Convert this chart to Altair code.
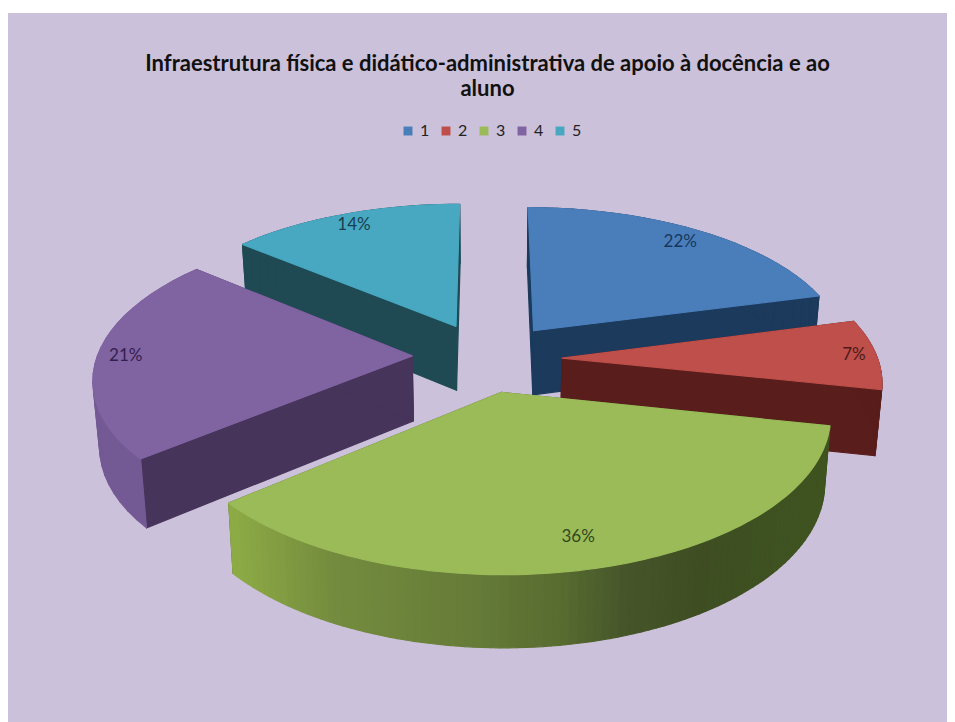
import math
import altair as alt

# Values
categories = ["1", "2", "3", "4", "5"]
labels = ["22%", "7%", "36%", "21%", "14%"]
shares = [22, 7, 36, 21, 14]
# apparent sweep of each slice in the tilted picture, degrees
sweeps = [75, 27, 128, 80, 50]
top_colors = ["#4A7EBB", "#BE4F4B", "#9BBB59", "#8064A2", "#48A8C2"]
cut_colors = ["#1B3A5C", "#591E1C", "#4F6428", "#47345A", "#1F4A54"]
rim_colors = ["#1B3A5C", "#591E1C", "#4F6428", "#745A94", "#1F4A54"]
label_colors = ["#17375E", "#4F1B19", "#33471C", "#33204F", "#173F4F"]
green_stops = [(232, "#8DAB45"), (330, "#748C3E"), (470, "#667C38"), (560, "#586C30"),
               (625, "#46562A"), (700, "#3E4E22"), (830, "#3F5420")]
title_lines = ["Infraestrutura física e didático-administrativa de apoio à docência e ao", "aluno"]
BG = "#CCC1DA"

# 3D pie projection
CX, CY, S, KS, Q, EXPLODE = 487, 357, 315, 146.6, 0.137, 0.238
LABEL_R = [0.88, 0.93, 0.84, 0.91, 0.90]
PAD_TOP = 5
W, H = 939, 714


def project(x, y):
    w = 1 - Q * y
    return CX + S * x / w, CY + KS * y / w, w


def top_pt(th, mid, r=1.0):
    x = EXPLODE * math.sin(mid) + r * math.sin(th)
    y = -EXPLODE * math.cos(mid) - r * math.cos(th)
    return project(x, y)[:2]


def apex(mid):
    return project(EXPLODE * math.sin(mid), -EXPLODE * math.cos(mid))[:2]


def bottom(px, py):
    w = 1 - Q * ((py - CY) / KS) / (1 + Q * (py - CY) / KS)
    return CX + (px - CX) * 0.983, py + 25 + 40 / w


def hex_mix(a, b, t):
    ca = [int(a[i:i + 2], 16) for i in (1, 3, 5)]
    cb = [int(b[i:i + 2], 16) for i in (1, 3, 5)]
    return "#%02x%02x%02x" % tuple(round(p + (q - p) * t) for p, q in zip(ca, cb))


def green_at(x):
    if x <= green_stops[0][0]:
        return green_stops[0][1]
    for (x0, c0), (x1, c1) in zip(green_stops, green_stops[1:]):
        if x <= x1:
            return hex_mix(c0, c1, (x - x0) / (x1 - x0))
    return green_stops[-1][1]


features, domain, colors = [], [], []


def add(key, color, pts):
    ring = [list(p) for p in pts] + [list(pts[0])]
    features.append({"type": "Feature", "properties": {"key": key},
                     "geometry": {"type": "Polygon", "coordinates": [ring]}})
    if key not in domain:
        domain.append(key)
        colors.append(color)


# lilac panel behind the pie
add("panel", BG, [(8, 13), (W + 8, 13), (W + 8, H + 8), (8, H + 8)])

# angular extents of the slices and directions in which they are pulled out
extents, mids, acc, acc_p = [], [], 0, 0
for s, p in zip(sweeps, shares):
    extents.append((math.radians(acc), math.radians(acc + s)))
    mids.append((acc_p + p / 2) * 2 * math.pi / 100)
    acc += s
    acc_p += p

for i in [4, 0, 3, 1, 2]:  # back to front
    a0, a1 = extents[i]
    mid = mids[i]
    ap = apex(mid)
    n = 96 if i == 2 else 24
    angles = [a0 + (a1 - a0) * k / n for k in range(n + 1)]
    arc = [top_pt(t, mid) for t in angles]
    for e, name in ((arc[0], "a"), (arc[-1], "b")):
        add(f"cut{i}{name}", cut_colors[i],
            [ap, e, bottom(*e), bottom(*ap)])
    for k in range(n):
        p, q = arc[k], arc[k + 1]
        if i == 2:
            key, col = f"rim{i}_{k}", green_at((p[0] + q[0]) / 2)
        else:
            key, col = f"rim{i}", rim_colors[i]
        add(key, col, [p, q, bottom(*q), bottom(*p)])
    add(categories[i], top_colors[i], [ap] + arc)

text_rows = []
for i, lab in enumerate(labels):
    a0, a1 = extents[i]
    x, y = top_pt((a0 + a1) / 2, mids[i], LABEL_R[i])
    text_rows.append({"label": lab, "lon": x, "lat": y, "c": label_colors[i]})

proj = dict(type="identity", scale=1, translate=[-8, -8 - PAD_TOP])
scale = alt.Scale(domain=domain, range=colors)

pie = alt.Chart(alt.Data(values=features)).mark_geoshape(strokeWidth=1.2, strokeJoin="round").encode(
    color=alt.Color("properties.key:N", scale=scale, title=None,
                    legend=alt.Legend(values=categories, orient="none", legendX=392, legendY=110,
                                      direction="horizontal", columns=5, symbolType="square",
                                      symbolSize=80, symbolStrokeWidth=0, labelFontSize=16,
                                      labelFont="Lato", labelColor="#222222", columnPadding=8,
                                      symbolOpacity=1, labelOffset=4, zindex=1)),
    stroke=alt.Stroke("properties.key:N", scale=scale, legend=None),
).project(**proj)

text = alt.Chart(alt.Data(values=text_rows)).mark_text(font="Lato", fontSize=17).encode(
    longitude="lon:Q", latitude="lat:Q", text="label:N",
    color=alt.Color("c:N", scale=None),
).project(**proj)

chart = (
    alt.layer(pie, text)
    .resolve_scale(color="independent")
    .properties(
        width=W, height=H - PAD_TOP,
        background="#ffffff",
        padding={"left": 0, "top": PAD_TOP, "right": 0, "bottom": 0},
        autosize=alt.AutoSizeParams(type="none"),
        title=alt.TitleParams(text=title_lines, font="Lato", fontSize=22, fontWeight="bold",
                              color="#111111", anchor="middle", dx=10, offset=-88, lineHeight=25,
                              zindex=1),
    )
    .configure_view(stroke=None)
)
chart.save("out.html", embed_options={"renderer": "svg", "actions": False})
